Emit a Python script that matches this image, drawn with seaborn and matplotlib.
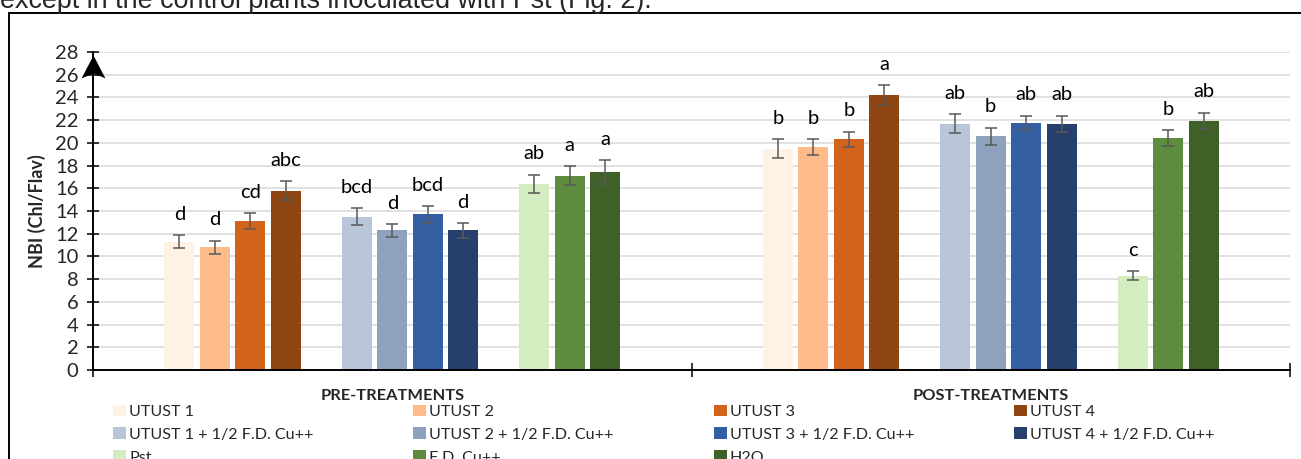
import matplotlib
matplotlib.use("Agg")
import matplotlib.pyplot as plt
from matplotlib.patches import Rectangle, Patch
import numpy as np
import pandas as pd
import seaborn as sns

# ---- data -------------------------------------------------------------
phases = ["PRE-TREATMENTS", "POST-TREATMENTS"]
treatments = [
    "UTUST 1", "UTUST 2", "UTUST 3", "UTUST 4",
    "UTUST 1 + 1/2 F.D. Cu++", "UTUST 2 + 1/2 F.D. Cu++",
    "UTUST 3 + 1/2 F.D. Cu++", "UTUST 4 + 1/2 F.D. Cu++",
    "Pst", "F.D. Cu++", "H2O",
]
pre_nbi = [11.3, 10.8, 13.1, 15.8, 13.5, 12.3, 13.7, 12.3, 16.4, 17.1, 17.4]
post_nbi = [19.5, 19.6, 20.3, 24.2, 21.7, 20.6, 21.75, 21.7, 8.3, 20.4, 21.95]
pre_err = [0.6, 0.6, 0.7, 0.85, 0.75, 0.55, 0.75, 0.65, 0.8, 0.85, 1.05]
post_err = [0.85, 0.7, 0.7, 0.9, 0.85, 0.75, 0.65, 0.7, 0.4, 0.7, 0.7]
pre_letters = ["d", "d", "cd", "abc", "bcd", "d", "bcd", "d", "ab", "a", "a"]
post_letters = ["b", "b", "b", "a", "ab", "b", "ab", "ab", "c", "b", "ab"]
y_ticks = list(range(0, 29, 2))

colors = [
    "#FEF2E4", "#FDBB8A", "#D2631B", "#8C4513",
    "#B9C5D8", "#8EA2BD", "#355FA3", "#263F6C",
    "#D3ECC0", "#5E8C3E", "#3F6128",
]

# ---- long table ---------------------------------------------------------
df = pd.DataFrame({
    "phase": np.repeat(phases, len(treatments)),
    "treatment": treatments * len(phases),
    "nbi": pre_nbi + post_nbi,
    "err": pre_err + post_err,
    "letter": pre_letters + post_letters,
})

# empty levels leave a gap between the treatment families
hue_order = treatments[0:4] + [" "] + treatments[4:8] + ["  "] + treatments[8:]
palette = dict(zip(treatments, colors))
palette[" "] = "white"
palette["  "] = "white"

# ---- figure -------------------------------------------------------------
sns.set_style("white")
plt.rcParams["font.family"] = ["Lato", "DejaVu Sans"]

W, H = 1301, 459
fig = plt.figure(figsize=(W / 100, H / 100), dpi=100)
ax = fig.add_axes([93 / W, 1 - 370 / H, (1290 - 93) / W, (370 - 52) / H])

sns.barplot(
    data=df, x="phase", y="nbi", hue="treatment",
    order=phases, hue_order=hue_order, palette=palette,
    width=0.771, gap=0.155, saturation=1, errorbar=None,
    legend=False, linewidth=0, ax=ax,
)

# bar centres straight from the drawn patches
bars = [p for p in ax.patches if p.get_height() > 0]
by_phase = {0: [], 1: []}
for p in bars:
    xc = p.get_x() + p.get_width() / 2
    by_phase[int(round(xc))].append(xc)
xs = []
for k in (0, 1):
    xs += sorted(by_phase[k])
df["x"] = xs

ax.errorbar(df["x"], df["nbi"], yerr=df["err"], fmt="none",
            ecolor="#595959", elinewidth=1.1, capsize=4.2, capthick=1.1,
            zorder=4)

for _, r in df.iterrows():
    ax.annotate(r["letter"], (r["x"], r["nbi"] + r["err"]),
                xytext=(0, 11), textcoords="offset points",
                ha="center", va="baseline", fontsize=14.5, color="black")

# ---- axes styling ---------------------------------------------------------
ax.set_xlim(-0.5, 1.5)
ax.set_ylim(0, 28)
ax.set_yticks(y_ticks)
ax.set_yticklabels([str(t) for t in y_ticks])
ax.grid(axis="y", color="#d9d9d9", linewidth=1.1, zorder=0)
ax.set_axisbelow(True)

for side in ("top", "right"):
    ax.spines[side].set_visible(False)
for side in ("left", "bottom"):
    ax.spines[side].set_color("black")
    ax.spines[side].set_linewidth(1.4)

ax.tick_params(axis="y", direction="inout", length=9, width=1.1,
               color="black", labelsize=14.5, pad=6, left=True)

ax.set_xticks([-0.5, 0.5, 1.5])
ax.set_xticklabels(["", "", ""])
ax.set_xticks([0, 1], minor=True)
ax.set_xticklabels(phases, minor=True, fontweight="bold", fontsize=11.8)
ax.tick_params(axis="x", which="major", direction="inout", length=9.5,
               width=1.1, color="black", bottom=True)
ax.tick_params(axis="x", which="minor", length=0, pad=14)
ax.set_xlabel("")

ax.set_ylabel("NBI (Chl/Flav)", fontweight="bold", fontsize=13)
ax.yaxis.set_label_coords((46 - 93) / (1290 - 93), 0.5)

# arrow head capping the value axis
ax.plot([-0.5], [27.75], marker=[(0, 0), (-12, -23), (0, -18), (12, -23)],
        markersize=33, color="black", markeredgewidth=0, clip_on=False,
        zorder=6)

# ---- legend ---------------------------------------------------------------
order = [0, 4, 8, 1, 5, 9, 2, 6, 10, 3, 7]
handles = [Patch(facecolor=colors[i], edgecolor="none") for i in order]
labels = [treatments[i] for i in order]
fig.legend(handles, labels, ncol=4, loc="upper left",
           bbox_to_anchor=(113 / W, 1 - 404.5 / H), frameon=False,
           fontsize=11.6, handlelength=0.8, handleheight=0.75,
           handletextpad=0.2, labelspacing=0.52, columnspacing=6.2,
           borderpad=0, borderaxespad=0)

# ---- surrounding frame and running text ------------------------------------
fig.add_artist(Rectangle((8.5 / W, -0.1), 1.2, 1.1 - 13 / H,
                         transform=fig.transFigure, fill=False,
                         edgecolor="black", linewidth=1.4))
fig.text(0.5 / W, 1 - 7.5 / H,
         "except in the control plants inoculated with Pst (Fig. 2).",
         family=["Liberation Sans", "DejaVu Sans"], fontsize=19.4,
         ha="left", va="baseline")

fig.savefig("out.png", dpi=100)
